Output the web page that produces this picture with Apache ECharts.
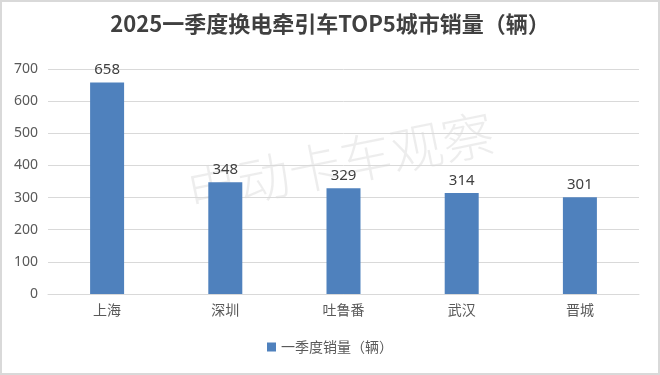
<!DOCTYPE html>
<html><head><meta charset="utf-8">
<script src="https://cdn.jsdelivr.net/npm/echarts@6/dist/echarts.min.js"></script>
<style>html,body{margin:0;padding:0;background:#fff}#c{width:660px;height:375px;box-sizing:border-box;border:2px solid #d9d9d9}</style>
</head><body><div id="c"></div>
<script>
const title = '2025一季度换电牵引车TOP5城市销量（辆）';
const categories = ['上海', '深圳', '吐鲁番', '武汉', '晋城'];
const seriesName = '一季度销量（辆）';
const values = [658, 348, 329, 314, 301];
const yTicks = [0, 100, 200, 300, 400, 500, 600, 700];

const chart = echarts.init(document.getElementById('c'), null, {renderer: 'canvas'});
chart.setOption({
  animation: false,
  title: {text: title, left: 'center', top: 6,
    textStyle: {fontFamily: 'Noto Sans CJK SC', fontWeight: 'bold', fontSize: 22, color: '#404040'}},
  graphic: [{type: 'text', left: 180, top: 104, rotation: 0.2, z: 0,
    style: {text: '电动卡车观察', fontFamily: 'Noto Sans CJK SC', fontWeight: 300, fontSize: 52, fill: 'rgba(0,0,0,0.07)'}}],
  legend: {bottom: 14, left: 'center', itemWidth: 9, itemHeight: 9, icon: 'rect',
    textStyle: {fontFamily: 'Noto Sans CJK SC', fontSize: 14, color: '#595959'}},
  grid: {left: 46, right: 19, top: 67, bottom: 79},
  xAxis: {type: 'category', data: categories,
    axisLine: {lineStyle: {color: '#d9d9d9'}}, axisTick: {show: false},
    axisLabel: {fontFamily: 'Noto Sans CJK SC', fontSize: 14, color: '#595959', margin: 9}},
  yAxis: {type: 'value', min: yTicks[0], max: yTicks[yTicks.length - 1], interval: 100,
    axisLine: {show: false}, axisTick: {show: false},
    splitLine: {lineStyle: {color: '#d9d9d9'}},
    axisLabel: {fontFamily: 'Noto Sans', fontSize: 14, color: '#595959', margin: 10}},
  series: [{name: seriesName, type: 'bar', data: values, barWidth: 34, z: 2,
    itemStyle: {color: '#4f81bd'},
    label: {show: true, position: 'top', fontFamily: 'Noto Sans', fontSize: 15, color: '#404040', distance: 5}}]
});
</script></body></html>
